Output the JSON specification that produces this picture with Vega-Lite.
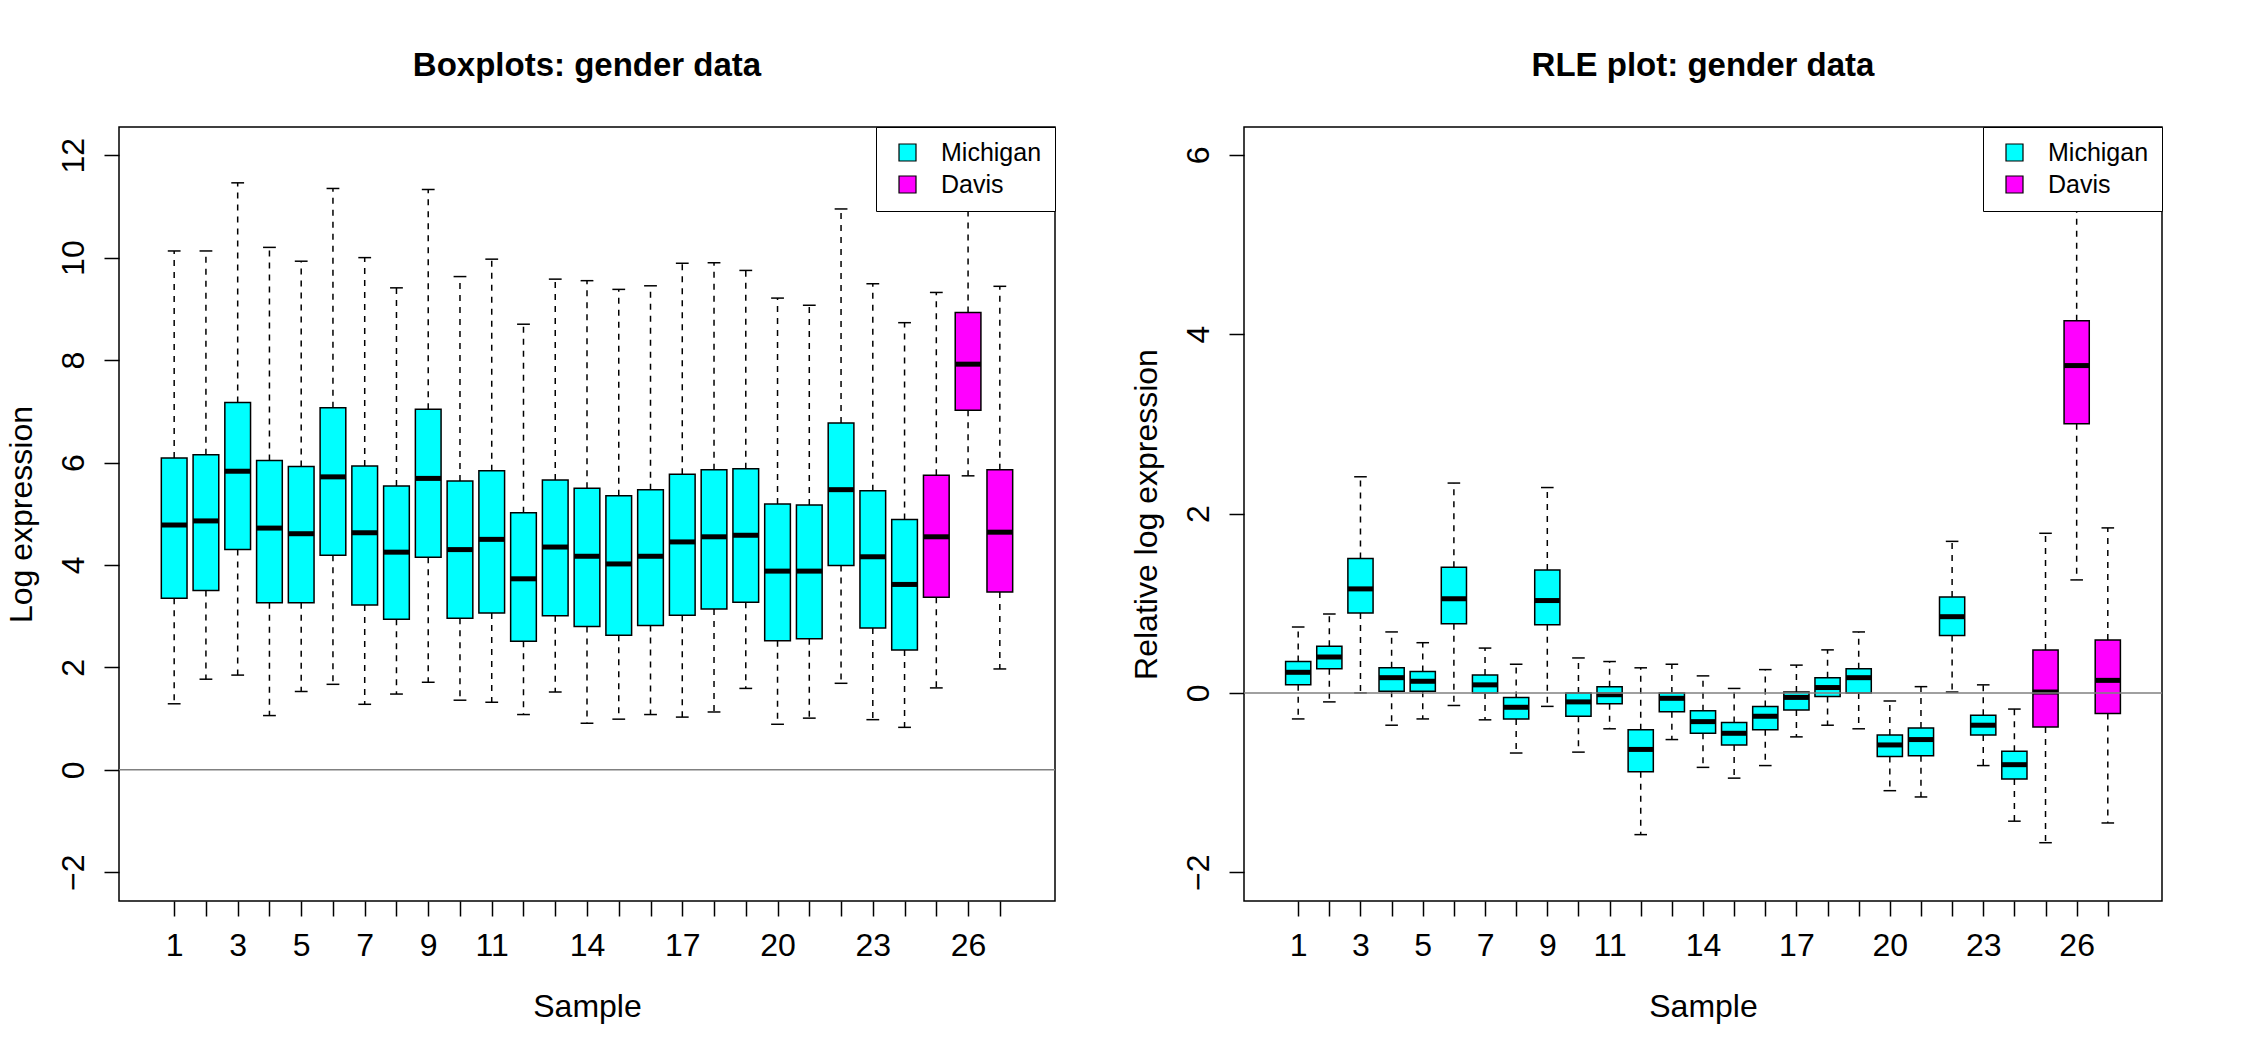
{
  "$schema": "https://vega.github.io/schema/vega-lite/v6.json",
  "padding": {"left": 4, "top": 48, "right": 5, "bottom": 5},
  "background": "white",
  "config": {
    "font": "Liberation Sans",
    "view": {"stroke": "black", "strokeWidth": 1.5},
    "axis": {"labelFont": "Liberation Sans", "titleFont": "Liberation Sans", "labelFontSize": 32, "titleFontSize": 32, "titleFontWeight": "normal", "labelColor": "black", "titleColor": "black", "tickColor": "black", "tickSize": 15, "tickWidth": 1.5, "domain": false, "grid": false, "labelFlush": false, "labelOverlap": false},
    "legend": {"orient": "top-right", "offset": 0, "fillColor": "white", "strokeColor": "black", "padding": 13, "symbolType": "square", "symbolSize": 289, "symbolStrokeColor": "black", "symbolStrokeWidth": 1.2, "symbolOpacity": 1, "labelFont": "Liberation Sans", "labelFontSize": 25, "labelColor": "black", "labelOffset": 21, "rowPadding": 6, "symbolOffset": 6}
  },
  "datasets": {
    "box": [
      {"sample": 1, "site": "Michigan", "lower": 1.29, "q1": 3.35, "median": 4.78, "q3": 6.09, "upper": 10.13},
      {"sample": 2, "site": "Michigan", "lower": 1.77, "q1": 3.50, "median": 4.86, "q3": 6.15, "upper": 10.13},
      {"sample": 3, "site": "Michigan", "lower": 1.85, "q1": 4.30, "median": 5.83, "q3": 7.17, "upper": 11.46},
      {"sample": 4, "site": "Michigan", "lower": 1.06, "q1": 3.26, "median": 4.72, "q3": 6.04, "upper": 10.20},
      {"sample": 5, "site": "Michigan", "lower": 1.53, "q1": 3.26, "median": 4.61, "q3": 5.92, "upper": 9.93},
      {"sample": 6, "site": "Michigan", "lower": 1.67, "q1": 4.19, "median": 5.72, "q3": 7.07, "upper": 11.35},
      {"sample": 7, "site": "Michigan", "lower": 1.28, "q1": 3.22, "median": 4.63, "q3": 5.93, "upper": 10.00},
      {"sample": 8, "site": "Michigan", "lower": 1.48, "q1": 2.94, "median": 4.25, "q3": 5.54, "upper": 9.41},
      {"sample": 9, "site": "Michigan", "lower": 1.71, "q1": 4.15, "median": 5.69, "q3": 7.04, "upper": 11.33},
      {"sample": 10, "site": "Michigan", "lower": 1.36, "q1": 2.96, "median": 4.30, "q3": 5.64, "upper": 9.63},
      {"sample": 11, "site": "Michigan", "lower": 1.32, "q1": 3.06, "median": 4.50, "q3": 5.84, "upper": 9.97},
      {"sample": 12, "site": "Michigan", "lower": 1.08, "q1": 2.51, "median": 3.73, "q3": 5.02, "upper": 8.70},
      {"sample": 13, "site": "Michigan", "lower": 1.52, "q1": 3.01, "median": 4.35, "q3": 5.66, "upper": 9.58},
      {"sample": 14, "site": "Michigan", "lower": 0.91, "q1": 2.80, "median": 4.17, "q3": 5.50, "upper": 9.55},
      {"sample": 15, "site": "Michigan", "lower": 0.99, "q1": 2.63, "median": 4.02, "q3": 5.35, "upper": 9.38},
      {"sample": 16, "site": "Michigan", "lower": 1.08, "q1": 2.82, "median": 4.17, "q3": 5.47, "upper": 9.45},
      {"sample": 17, "site": "Michigan", "lower": 1.03, "q1": 3.02, "median": 4.45, "q3": 5.77, "upper": 9.89},
      {"sample": 18, "site": "Michigan", "lower": 1.13, "q1": 3.14, "median": 4.55, "q3": 5.86, "upper": 9.90},
      {"sample": 19, "site": "Michigan", "lower": 1.59, "q1": 3.27, "median": 4.58, "q3": 5.88, "upper": 9.75},
      {"sample": 20, "site": "Michigan", "lower": 0.89, "q1": 2.52, "median": 3.88, "q3": 5.19, "upper": 9.21},
      {"sample": 21, "site": "Michigan", "lower": 1.01, "q1": 2.56, "median": 3.88, "q3": 5.17, "upper": 9.07},
      {"sample": 22, "site": "Michigan", "lower": 1.69, "q1": 3.99, "median": 5.47, "q3": 6.77, "upper": 10.95},
      {"sample": 23, "site": "Michigan", "lower": 0.98, "q1": 2.77, "median": 4.16, "q3": 5.45, "upper": 9.49},
      {"sample": 24, "site": "Michigan", "lower": 0.83, "q1": 2.34, "median": 3.62, "q3": 4.89, "upper": 8.73},
      {"sample": 25, "site": "Davis", "lower": 1.60, "q1": 3.37, "median": 4.55, "q3": 5.75, "upper": 9.32},
      {"sample": 26, "site": "Davis", "lower": 5.74, "q1": 7.02, "median": 7.92, "q3": 8.93, "upper": 11.6},
      {"sample": 27, "site": "Davis", "lower": 1.97, "q1": 3.47, "median": 4.64, "q3": 5.86, "upper": 9.44}
    ],
    "rle": [
      {"sample": 1, "site": "Michigan", "lower": -0.29, "q1": 0.09, "median": 0.23, "q3": 0.35, "upper": 0.735},
      {"sample": 2, "site": "Michigan", "lower": -0.10, "q1": 0.27, "median": 0.40, "q3": 0.52, "upper": 0.88},
      {"sample": 3, "site": "Michigan", "lower": 0.0, "q1": 0.89, "median": 1.16, "q3": 1.50, "upper": 2.41},
      {"sample": 4, "site": "Michigan", "lower": -0.36, "q1": 0.02, "median": 0.17, "q3": 0.28, "upper": 0.68},
      {"sample": 5, "site": "Michigan", "lower": -0.29, "q1": 0.02, "median": 0.13, "q3": 0.24, "upper": 0.56},
      {"sample": 6, "site": "Michigan", "lower": -0.14, "q1": 0.77, "median": 1.05, "q3": 1.40, "upper": 2.34},
      {"sample": 7, "site": "Michigan", "lower": -0.30, "q1": 0.0, "median": 0.09, "q3": 0.20, "upper": 0.50},
      {"sample": 8, "site": "Michigan", "lower": -0.67, "q1": -0.29, "median": -0.16, "q3": -0.05, "upper": 0.32},
      {"sample": 9, "site": "Michigan", "lower": -0.15, "q1": 0.76, "median": 1.03, "q3": 1.37, "upper": 2.29},
      {"sample": 10, "site": "Michigan", "lower": -0.66, "q1": -0.26, "median": -0.10, "q3": 0.0, "upper": 0.39},
      {"sample": 11, "site": "Michigan", "lower": -0.40, "q1": -0.12, "median": -0.02, "q3": 0.07, "upper": 0.35},
      {"sample": 12, "site": "Michigan", "lower": -1.58, "q1": -0.88, "median": -0.63, "q3": -0.41, "upper": 0.28},
      {"sample": 13, "site": "Michigan", "lower": -0.52, "q1": -0.21, "median": -0.06, "q3": 0.0, "upper": 0.32},
      {"sample": 14, "site": "Michigan", "lower": -0.83, "q1": -0.45, "median": -0.32, "q3": -0.20, "upper": 0.19},
      {"sample": 15, "site": "Michigan", "lower": -0.95, "q1": -0.58, "median": -0.45, "q3": -0.33, "upper": 0.05},
      {"sample": 16, "site": "Michigan", "lower": -0.81, "q1": -0.41, "median": -0.26, "q3": -0.15, "upper": 0.26},
      {"sample": 17, "site": "Michigan", "lower": -0.49, "q1": -0.19, "median": -0.05, "q3": 0.01, "upper": 0.31},
      {"sample": 18, "site": "Michigan", "lower": -0.36, "q1": -0.04, "median": 0.06, "q3": 0.17, "upper": 0.48},
      {"sample": 19, "site": "Michigan", "lower": -0.40, "q1": 0.0, "median": 0.17, "q3": 0.27, "upper": 0.68},
      {"sample": 20, "site": "Michigan", "lower": -1.09, "q1": -0.71, "median": -0.58, "q3": -0.47, "upper": -0.09},
      {"sample": 21, "site": "Michigan", "lower": -1.16, "q1": -0.70, "median": -0.52, "q3": -0.39, "upper": 0.07},
      {"sample": 22, "site": "Michigan", "lower": 0.01, "q1": 0.64, "median": 0.85, "q3": 1.07, "upper": 1.69},
      {"sample": 23, "site": "Michigan", "lower": -0.81, "q1": -0.47, "median": -0.36, "q3": -0.25, "upper": 0.09},
      {"sample": 24, "site": "Michigan", "lower": -1.43, "q1": -0.96, "median": -0.80, "q3": -0.65, "upper": -0.18},
      {"sample": 25, "site": "Davis", "lower": -1.67, "q1": -0.38, "median": 0.01, "q3": 0.48, "upper": 1.78},
      {"sample": 26, "site": "Davis", "lower": 1.26, "q1": 3.00, "median": 3.65, "q3": 4.15, "upper": 5.9},
      {"sample": 27, "site": "Davis", "lower": -1.45, "q1": -0.23, "median": 0.14, "q3": 0.59, "upper": 1.84}
    ]
  },
  "spacing": 72,
  "resolve": {"scale": {"x": "independent", "y": "independent", "color": "independent"}, "legend": {"color": "independent"}},
  "hconcat": [
    {
      "width": 936,
      "height": 774,
      "title": {"text": "Boxplots: gender data", "font": "Liberation Sans", "fontSize": 33, "fontWeight": "bold", "color": "black", "anchor": "middle", "frame": "group", "offset": 18, "baseline": "alphabetic"},
      "data": {"name": "box"},
      "layer": [
        {
          "mark": {"type": "rule", "color": "black", "strokeWidth": 1.5, "strokeDash": [6, 6]},
          "encoding": {
            "x": {"field": "sample", "type": "quantitative", "title": "Sample", "scale": {"domain": [-0.58, 28.58], "nice": false, "zero": false}, "axis": {"values": [1,2,3,4,5,6,7,8,9,10,11,12,13,14,15,16,17,18,19,20,21,22,23,24,25,26,27], "labelOverlap": false, "labelFlush": false, "labelBound": false, "labelAngle": 0, "labelBaseline": "alphabetic", "labelAlign": "center", "labelPadding": 39, "titleY": 115, "titleBaseline": "alphabetic", "labelExpr": "indexof([1,3,5,7,9,11,14,17,20,23,26], datum.value) >= 0 ? datum.label : ''"}},
            "y": {"field": "q3", "type": "quantitative", "title": "Log expression", "scale": {"domain": [-2.56, 12.55], "nice": false, "zero": false}, "axis": {"values": [-2, 0, 2, 4, 6, 8, 10, 12], "format": "d", "labelOverlap": false, "labelAngle": -90, "labelAlign": "center", "labelBaseline": "alphabetic", "labelPadding": 21, "titleX": -88, "titleY": 387, "titleAngle": -90, "titleAlign": "center", "titleBaseline": "alphabetic"}},
            "y2": {"field": "upper"}
          }
        },
        {
          "mark": {"type": "rule", "color": "black", "strokeWidth": 1.5, "strokeDash": [6, 6]},
          "encoding": {
            "x": {"field": "sample", "type": "quantitative", "title": "Sample", "scale": {"domain": [-0.58, 28.58], "nice": false, "zero": false}, "axis": {"values": [1,2,3,4,5,6,7,8,9,10,11,12,13,14,15,16,17,18,19,20,21,22,23,24,25,26,27], "labelOverlap": false, "labelFlush": false, "labelBound": false, "labelAngle": 0, "labelBaseline": "alphabetic", "labelAlign": "center", "labelPadding": 39, "titleY": 115, "titleBaseline": "alphabetic", "labelExpr": "indexof([1,3,5,7,9,11,14,17,20,23,26], datum.value) >= 0 ? datum.label : ''"}},
            "y": {"field": "q1", "type": "quantitative", "title": "Log expression", "scale": {"domain": [-2.56, 12.55], "nice": false, "zero": false}, "axis": {"values": [-2, 0, 2, 4, 6, 8, 10, 12], "format": "d", "labelOverlap": false, "labelAngle": -90, "labelAlign": "center", "labelBaseline": "alphabetic", "labelPadding": 21, "titleX": -88, "titleY": 387, "titleAngle": -90, "titleAlign": "center", "titleBaseline": "alphabetic"}},
            "y2": {"field": "lower"}
          }
        },
        {
          "mark": {"type": "tick", "orient": "horizontal", "color": "black", "size": 12.8, "thickness": 1.5, "opacity": 1},
          "encoding": {
            "x": {"field": "sample", "type": "quantitative", "title": "Sample", "scale": {"domain": [-0.58, 28.58], "nice": false, "zero": false}, "axis": {"values": [1,2,3,4,5,6,7,8,9,10,11,12,13,14,15,16,17,18,19,20,21,22,23,24,25,26,27], "labelOverlap": false, "labelFlush": false, "labelBound": false, "labelAngle": 0, "labelBaseline": "alphabetic", "labelAlign": "center", "labelPadding": 39, "titleY": 115, "titleBaseline": "alphabetic", "labelExpr": "indexof([1,3,5,7,9,11,14,17,20,23,26], datum.value) >= 0 ? datum.label : ''"}},
            "y": {"field": "upper", "type": "quantitative", "title": "Log expression", "scale": {"domain": [-2.56, 12.55], "nice": false, "zero": false}, "axis": {"values": [-2, 0, 2, 4, 6, 8, 10, 12], "format": "d", "labelOverlap": false, "labelAngle": -90, "labelAlign": "center", "labelBaseline": "alphabetic", "labelPadding": 21, "titleX": -88, "titleY": 387, "titleAngle": -90, "titleAlign": "center", "titleBaseline": "alphabetic"}}
          }
        },
        {
          "mark": {"type": "tick", "orient": "horizontal", "color": "black", "size": 12.8, "thickness": 1.5, "opacity": 1},
          "encoding": {
            "x": {"field": "sample", "type": "quantitative", "title": "Sample", "scale": {"domain": [-0.58, 28.58], "nice": false, "zero": false}, "axis": {"values": [1,2,3,4,5,6,7,8,9,10,11,12,13,14,15,16,17,18,19,20,21,22,23,24,25,26,27], "labelOverlap": false, "labelFlush": false, "labelBound": false, "labelAngle": 0, "labelBaseline": "alphabetic", "labelAlign": "center", "labelPadding": 39, "titleY": 115, "titleBaseline": "alphabetic", "labelExpr": "indexof([1,3,5,7,9,11,14,17,20,23,26], datum.value) >= 0 ? datum.label : ''"}},
            "y": {"field": "lower", "type": "quantitative", "title": "Log expression", "scale": {"domain": [-2.56, 12.55], "nice": false, "zero": false}, "axis": {"values": [-2, 0, 2, 4, 6, 8, 10, 12], "format": "d", "labelOverlap": false, "labelAngle": -90, "labelAlign": "center", "labelBaseline": "alphabetic", "labelPadding": 21, "titleX": -88, "titleY": 387, "titleAngle": -90, "titleAlign": "center", "titleBaseline": "alphabetic"}}
          }
        },
        {
          "mark": {"type": "bar", "size": 25.7, "stroke": "black", "strokeWidth": 1.5, "opacity": 1},
          "encoding": {
            "x": {"field": "sample", "type": "quantitative", "title": "Sample", "scale": {"domain": [-0.58, 28.58], "nice": false, "zero": false}, "axis": {"values": [1,2,3,4,5,6,7,8,9,10,11,12,13,14,15,16,17,18,19,20,21,22,23,24,25,26,27], "labelOverlap": false, "labelFlush": false, "labelBound": false, "labelAngle": 0, "labelBaseline": "alphabetic", "labelAlign": "center", "labelPadding": 39, "titleY": 115, "titleBaseline": "alphabetic", "labelExpr": "indexof([1,3,5,7,9,11,14,17,20,23,26], datum.value) >= 0 ? datum.label : ''"}},
            "y": {"field": "q1", "type": "quantitative", "title": "Log expression", "scale": {"domain": [-2.56, 12.55], "nice": false, "zero": false}, "axis": {"values": [-2, 0, 2, 4, 6, 8, 10, 12], "format": "d", "labelOverlap": false, "labelAngle": -90, "labelAlign": "center", "labelBaseline": "alphabetic", "labelPadding": 21, "titleX": -88, "titleY": 387, "titleAngle": -90, "titleAlign": "center", "titleBaseline": "alphabetic"}},
            "y2": {"field": "q3"},
            "color": {"field": "site", "type": "nominal", "scale": {"domain": ["Michigan", "Davis"], "range": ["#00FFFF", "#FF00FF"]}, "legend": {"title": null}}
          }
        },
        {
          "mark": {"type": "tick", "orient": "horizontal", "color": "black", "size": 25.7, "thickness": 5, "opacity": 1},
          "encoding": {
            "x": {"field": "sample", "type": "quantitative", "title": "Sample", "scale": {"domain": [-0.58, 28.58], "nice": false, "zero": false}, "axis": {"values": [1,2,3,4,5,6,7,8,9,10,11,12,13,14,15,16,17,18,19,20,21,22,23,24,25,26,27], "labelOverlap": false, "labelFlush": false, "labelBound": false, "labelAngle": 0, "labelBaseline": "alphabetic", "labelAlign": "center", "labelPadding": 39, "titleY": 115, "titleBaseline": "alphabetic", "labelExpr": "indexof([1,3,5,7,9,11,14,17,20,23,26], datum.value) >= 0 ? datum.label : ''"}},
            "y": {"field": "median", "type": "quantitative", "title": "Log expression", "scale": {"domain": [-2.56, 12.55], "nice": false, "zero": false}, "axis": {"values": [-2, 0, 2, 4, 6, 8, 10, 12], "format": "d", "labelOverlap": false, "labelAngle": -90, "labelAlign": "center", "labelBaseline": "alphabetic", "labelPadding": 21, "titleX": -88, "titleY": 387, "titleAngle": -90, "titleAlign": "center", "titleBaseline": "alphabetic"}}
          }
        },
        {
          "data": {"values": [{"level": 0}]},
          "mark": {"type": "rule", "color": "#808080", "strokeWidth": 1.5},
          "encoding": {
            "y": {"field": "level", "type": "quantitative", "title": "Log expression", "scale": {"domain": [-2.56, 12.55], "nice": false, "zero": false}, "axis": {"values": [-2, 0, 2, 4, 6, 8, 10, 12], "format": "d", "labelOverlap": false, "labelAngle": -90, "labelAlign": "center", "labelBaseline": "alphabetic", "labelPadding": 21, "titleX": -88, "titleY": 387, "titleAngle": -90, "titleAlign": "center", "titleBaseline": "alphabetic"}}
          }
        }
      ]
    },
    {
      "width": 918,
      "height": 774,
      "title": {"text": "RLE plot: gender data", "font": "Liberation Sans", "fontSize": 33, "fontWeight": "bold", "color": "black", "anchor": "middle", "frame": "group", "offset": 18, "baseline": "alphabetic"},
      "data": {"name": "rle"},
      "layer": [
        {
          "mark": {"type": "rule", "color": "black", "strokeWidth": 1.5, "strokeDash": [6, 6]},
          "encoding": {
            "x": {"field": "sample", "type": "quantitative", "title": "Sample", "scale": {"domain": [-0.58, 28.58], "nice": false, "zero": false}, "axis": {"values": [1,2,3,4,5,6,7,8,9,10,11,12,13,14,15,16,17,18,19,20,21,22,23,24,25,26,27], "labelOverlap": false, "labelFlush": false, "labelBound": false, "labelAngle": 0, "labelBaseline": "alphabetic", "labelAlign": "center", "labelPadding": 39, "titleY": 115, "titleBaseline": "alphabetic", "labelExpr": "indexof([1,3,5,7,9,11,14,17,20,23,26], datum.value) >= 0 ? datum.label : ''"}},
            "y": {"field": "q3", "type": "quantitative", "title": "Relative log expression", "scale": {"domain": [-2.32, 6.31], "nice": false, "zero": false}, "axis": {"values": [-2, 0, 2, 4, 6], "format": "d", "labelOverlap": false, "labelAngle": -90, "labelAlign": "center", "labelBaseline": "alphabetic", "labelPadding": 21, "titleX": -88, "titleY": 387, "titleAngle": -90, "titleAlign": "center", "titleBaseline": "alphabetic"}},
            "y2": {"field": "upper"}
          }
        },
        {
          "mark": {"type": "rule", "color": "black", "strokeWidth": 1.5, "strokeDash": [6, 6]},
          "encoding": {
            "x": {"field": "sample", "type": "quantitative", "title": "Sample", "scale": {"domain": [-0.58, 28.58], "nice": false, "zero": false}, "axis": {"values": [1,2,3,4,5,6,7,8,9,10,11,12,13,14,15,16,17,18,19,20,21,22,23,24,25,26,27], "labelOverlap": false, "labelFlush": false, "labelBound": false, "labelAngle": 0, "labelBaseline": "alphabetic", "labelAlign": "center", "labelPadding": 39, "titleY": 115, "titleBaseline": "alphabetic", "labelExpr": "indexof([1,3,5,7,9,11,14,17,20,23,26], datum.value) >= 0 ? datum.label : ''"}},
            "y": {"field": "q1", "type": "quantitative", "title": "Relative log expression", "scale": {"domain": [-2.32, 6.31], "nice": false, "zero": false}, "axis": {"values": [-2, 0, 2, 4, 6], "format": "d", "labelOverlap": false, "labelAngle": -90, "labelAlign": "center", "labelBaseline": "alphabetic", "labelPadding": 21, "titleX": -88, "titleY": 387, "titleAngle": -90, "titleAlign": "center", "titleBaseline": "alphabetic"}},
            "y2": {"field": "lower"}
          }
        },
        {
          "mark": {"type": "tick", "orient": "horizontal", "color": "black", "size": 12.6, "thickness": 1.5, "opacity": 1},
          "encoding": {
            "x": {"field": "sample", "type": "quantitative", "title": "Sample", "scale": {"domain": [-0.58, 28.58], "nice": false, "zero": false}, "axis": {"values": [1,2,3,4,5,6,7,8,9,10,11,12,13,14,15,16,17,18,19,20,21,22,23,24,25,26,27], "labelOverlap": false, "labelFlush": false, "labelBound": false, "labelAngle": 0, "labelBaseline": "alphabetic", "labelAlign": "center", "labelPadding": 39, "titleY": 115, "titleBaseline": "alphabetic", "labelExpr": "indexof([1,3,5,7,9,11,14,17,20,23,26], datum.value) >= 0 ? datum.label : ''"}},
            "y": {"field": "upper", "type": "quantitative", "title": "Relative log expression", "scale": {"domain": [-2.32, 6.31], "nice": false, "zero": false}, "axis": {"values": [-2, 0, 2, 4, 6], "format": "d", "labelOverlap": false, "labelAngle": -90, "labelAlign": "center", "labelBaseline": "alphabetic", "labelPadding": 21, "titleX": -88, "titleY": 387, "titleAngle": -90, "titleAlign": "center", "titleBaseline": "alphabetic"}}
          }
        },
        {
          "mark": {"type": "tick", "orient": "horizontal", "color": "black", "size": 12.6, "thickness": 1.5, "opacity": 1},
          "encoding": {
            "x": {"field": "sample", "type": "quantitative", "title": "Sample", "scale": {"domain": [-0.58, 28.58], "nice": false, "zero": false}, "axis": {"values": [1,2,3,4,5,6,7,8,9,10,11,12,13,14,15,16,17,18,19,20,21,22,23,24,25,26,27], "labelOverlap": false, "labelFlush": false, "labelBound": false, "labelAngle": 0, "labelBaseline": "alphabetic", "labelAlign": "center", "labelPadding": 39, "titleY": 115, "titleBaseline": "alphabetic", "labelExpr": "indexof([1,3,5,7,9,11,14,17,20,23,26], datum.value) >= 0 ? datum.label : ''"}},
            "y": {"field": "lower", "type": "quantitative", "title": "Relative log expression", "scale": {"domain": [-2.32, 6.31], "nice": false, "zero": false}, "axis": {"values": [-2, 0, 2, 4, 6], "format": "d", "labelOverlap": false, "labelAngle": -90, "labelAlign": "center", "labelBaseline": "alphabetic", "labelPadding": 21, "titleX": -88, "titleY": 387, "titleAngle": -90, "titleAlign": "center", "titleBaseline": "alphabetic"}}
          }
        },
        {
          "mark": {"type": "bar", "size": 25.2, "stroke": "black", "strokeWidth": 1.5, "opacity": 1},
          "encoding": {
            "x": {"field": "sample", "type": "quantitative", "title": "Sample", "scale": {"domain": [-0.58, 28.58], "nice": false, "zero": false}, "axis": {"values": [1,2,3,4,5,6,7,8,9,10,11,12,13,14,15,16,17,18,19,20,21,22,23,24,25,26,27], "labelOverlap": false, "labelFlush": false, "labelBound": false, "labelAngle": 0, "labelBaseline": "alphabetic", "labelAlign": "center", "labelPadding": 39, "titleY": 115, "titleBaseline": "alphabetic", "labelExpr": "indexof([1,3,5,7,9,11,14,17,20,23,26], datum.value) >= 0 ? datum.label : ''"}},
            "y": {"field": "q1", "type": "quantitative", "title": "Relative log expression", "scale": {"domain": [-2.32, 6.31], "nice": false, "zero": false}, "axis": {"values": [-2, 0, 2, 4, 6], "format": "d", "labelOverlap": false, "labelAngle": -90, "labelAlign": "center", "labelBaseline": "alphabetic", "labelPadding": 21, "titleX": -88, "titleY": 387, "titleAngle": -90, "titleAlign": "center", "titleBaseline": "alphabetic"}},
            "y2": {"field": "q3"},
            "color": {"field": "site", "type": "nominal", "scale": {"domain": ["Michigan", "Davis"], "range": ["#00FFFF", "#FF00FF"]}, "legend": {"title": null}}
          }
        },
        {
          "mark": {"type": "tick", "orient": "horizontal", "color": "black", "size": 25.2, "thickness": 5, "opacity": 1},
          "encoding": {
            "x": {"field": "sample", "type": "quantitative", "title": "Sample", "scale": {"domain": [-0.58, 28.58], "nice": false, "zero": false}, "axis": {"values": [1,2,3,4,5,6,7,8,9,10,11,12,13,14,15,16,17,18,19,20,21,22,23,24,25,26,27], "labelOverlap": false, "labelFlush": false, "labelBound": false, "labelAngle": 0, "labelBaseline": "alphabetic", "labelAlign": "center", "labelPadding": 39, "titleY": 115, "titleBaseline": "alphabetic", "labelExpr": "indexof([1,3,5,7,9,11,14,17,20,23,26], datum.value) >= 0 ? datum.label : ''"}},
            "y": {"field": "median", "type": "quantitative", "title": "Relative log expression", "scale": {"domain": [-2.32, 6.31], "nice": false, "zero": false}, "axis": {"values": [-2, 0, 2, 4, 6], "format": "d", "labelOverlap": false, "labelAngle": -90, "labelAlign": "center", "labelBaseline": "alphabetic", "labelPadding": 21, "titleX": -88, "titleY": 387, "titleAngle": -90, "titleAlign": "center", "titleBaseline": "alphabetic"}}
          }
        },
        {
          "data": {"values": [{"level": 0}]},
          "mark": {"type": "rule", "color": "#808080", "strokeWidth": 1.5},
          "encoding": {
            "y": {"field": "level", "type": "quantitative", "title": "Relative log expression", "scale": {"domain": [-2.32, 6.31], "nice": false, "zero": false}, "axis": {"values": [-2, 0, 2, 4, 6], "format": "d", "labelOverlap": false, "labelAngle": -90, "labelAlign": "center", "labelBaseline": "alphabetic", "labelPadding": 21, "titleX": -88, "titleY": 387, "titleAngle": -90, "titleAlign": "center", "titleBaseline": "alphabetic"}}
          }
        }
      ]
    }
  ]
}
